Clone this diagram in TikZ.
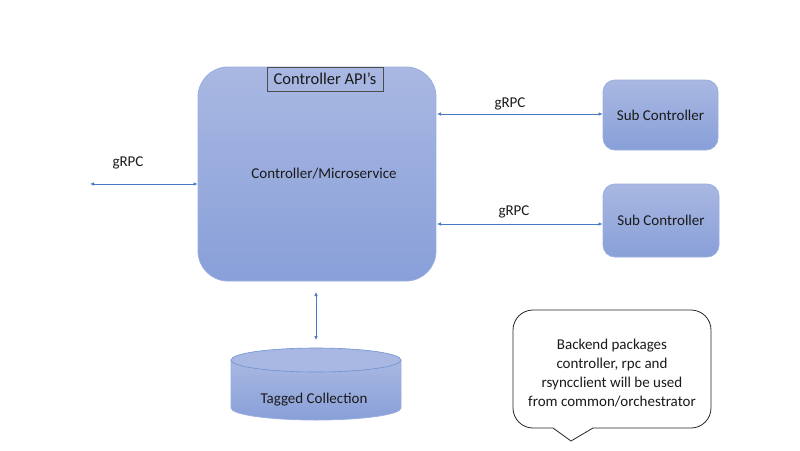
\documentclass[tikz,border=0pt]{standalone}
\usepackage{fontspec}
\setmainfont{Carlito}
\usetikzlibrary{arrows.meta}
\definecolor{topc}{HTML}{A9B8E2}
\definecolor{botc}{HTML}{889FD8}
\definecolor{edgec}{HTML}{9AAEE0}
\definecolor{linec}{HTML}{4A78C8}
\definecolor{txtc}{HTML}{1A1A1A}
\tikzset{
  blockbox/.style={draw=edgec, line width=0.8pt, top color=topc, bottom color=botc, inner sep=0pt, text=txtc},
  arr/.style={draw=linec, line width=0.7pt, {Latex[length=4pt,width=3.5pt]}-{Latex[length=4pt,width=3.5pt]}},
  lbl/.style={font=\fontsize{15}{18}\selectfont, inner sep=0pt, text=txtc},
}
\begin{document}
\begin{tikzpicture}[x=1pt,y=-1pt]
\useasboundingbox (0,0) rectangle (800,450);
% main box
\node[blockbox, rounded corners=30pt, minimum width=238pt, minimum height=214pt] (main) at (317,174) {};
\node[lbl] (maintxt) at (324,174) {Controller/Microservice};
\node[draw=black!70, line width=0.7pt, minimum width=116pt, minimum height=24pt, inner sep=0pt, text=txtc, font=\fontsize{16.5}{19}\selectfont] (api) at (325,79) {Controller API’s};
% sub controllers
\node[blockbox, rounded corners=12pt, minimum width=115pt, minimum height=70pt, font=\fontsize{15}{18}\selectfont] (sub1) at (660.5,115) {Sub Controller};
\node[blockbox, rounded corners=12pt, minimum width=116pt, minimum height=73pt, font=\fontsize{15}{18}\selectfont] (sub2) at (661,220.5) {Sub Controller};
% left connector
\coordinate (L) at (90,184);
\draw[arr] (L) -- (L -| main.west);
\node[lbl] (g0) at (128,163) {gRPC};
% right connectors
\coordinate (R1) at (437,114);
\coordinate (R2) at (437,224);
\draw[arr] (R1) -- (R1 -| sub1.west);
\node[lbl] (g1) at (510,104) {gRPC};
\draw[arr] (R2) -- (R2 -| sub2.west);
\node[lbl] (g2) at (514,212) {gRPC};
% cylinder
\shade[top color=topc, bottom color=botc, draw=edgec, line width=0.8pt]
  (231,360) -- (231,408) arc[start angle=180, end angle=0, x radius=85, y radius=12] -- (401,360) -- cycle;
\draw[fill=topc, draw=linec!80, line width=0.6pt] (316,360) ellipse[x radius=85, y radius=12];
\node[lbl] (cyl) at (314,400) {Tagged Collection};
\coordinate (ctop) at (316,340);
\coordinate (mbot) at (316,292);
\draw[arr] (mbot) -- (ctop);
% callout
\draw[black!85, line width=0.8pt, fill=white]
  (533,310) -- (691,310) arc[start angle=-90, end angle=0, radius=20] -- (711,408)
  arc[start angle=0, end angle=90, radius=20] -- (593,428) -- (571,441) -- (553,428) -- (533,428)
  arc[start angle=90, end angle=180, radius=20] -- (513,330) arc[start angle=180, end angle=270, radius=20] -- cycle;
\node[lbl, align=center, font=\fontsize{15}{19}\selectfont] (note) at (612,373) {Backend packages\\controller, rpc and\\rsyncclient will be used\\from common/orchestrator};
\end{tikzpicture}
\end{document}
